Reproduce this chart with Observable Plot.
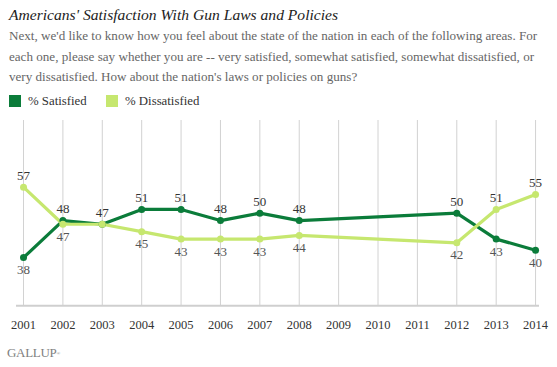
<!DOCTYPE html>
<html><head><meta charset="utf-8">
<script src="https://cdn.jsdelivr.net/npm/d3@7"></script>
<script src="https://cdn.jsdelivr.net/npm/@observablehq/plot@0.6"></script>
<style>
body{margin:0;background:#fff;width:557px;height:367px;position:relative;overflow:hidden;font-family:"Liberation Serif",serif;}
.abs{position:absolute;white-space:nowrap}
#title{left:9px;top:6.5px;font-size:15.6px;line-height:15.6px;font-style:italic;color:#222}
#sub{left:9px;top:26px;font-size:13.1px;line-height:20.7px;color:#666}
.sw{position:absolute;width:12px;height:12px;top:95px}
.lg{position:absolute;top:94px;font-size:12.8px;line-height:14px;color:#333}
#chart{position:absolute;left:0;top:110px}
#gallup{left:7px;top:346px;font-size:13px;line-height:13px;color:#808080;letter-spacing:-0.3px}
#gallup sup{font-size:5px;vertical-align:top;position:relative;top:1px}
</style></head>
<body>
<div id="title" class="abs">Americans' Satisfaction With Gun Laws and Policies</div>
<div id="sub" class="abs">Next, we'd like to know how you feel about the state of the nation in each of the following areas. For<br>each one, please say whether you are -- very satisfied, somewhat satisfied, somewhat dissatisfied, or<br>very dissatisfied. How about the nation's laws or policies on guns?</div>
<div id="legend"></div>
<div id="chart"></div>
<div id="gallup" class="abs">GALLUP<sup>®</sup></div>
<script>
const years = [2001, 2002, 2003, 2004, 2005, 2006, 2007, 2008, 2012, 2013, 2014];
const satisfied = [38, 48, 47, 51, 51, 48, 50, 48, 50, 43, 40];
const dissatisfied = [57, 47, 47, 45, 43, 43, 43, 44, 42, 51, 55];
const tickYears = [2001, 2002, 2003, 2004, 2005, 2006, 2007, 2008, 2009, 2010, 2011, 2012, 2013, 2014];
const seriesNames = ["% Satisfied", "% Dissatisfied"];
const seriesColors = ["#0b7c3a", "#c6e76f"];

// legend
const legend = document.getElementById("legend");
const legendX = [[9, 28], [106, 125]];
seriesNames.forEach((name, i) => {
  const sw = document.createElement("div");
  sw.className = "sw"; sw.style.left = legendX[i][0] + "px"; sw.style.background = seriesColors[i];
  const lb = document.createElement("div");
  lb.className = "lg"; lb.style.left = legendX[i][1] + "px"; lb.textContent = name;
  legend.append(sw, lb);
});

const rows = [];
years.forEach((y, i) => {
  const s = satisfied[i], d = dissatisfied[i];
  rows.push({year: y, series: seriesNames[0], value: s, pos: s >= d ? "above" : "below", show: true});
  rows.push({year: y, series: seriesNames[1], value: d, pos: d > s ? "above" : "below", show: d !== s});
});

const chart = Plot.plot({
  width: 557,
  height: 230,
  marginTop: 10,
  marginBottom: 34.7,
  marginLeft: 16,
  marginRight: 18,
  style: {fontFamily: "'Liberation Serif', serif", fontSize: "12.5px", color: "#333", background: "transparent"},
  x: {domain: [2000.822, 2014.1], axis: null},
  y: {domain: [25, 75], axis: null},
  color: {domain: seriesNames, range: seriesColors},
  marks: [
    Plot.ruleX(tickYears, {stroke: "#d2d2d2", strokeWidth: 1}),
    Plot.ruleY([25], {stroke: "#cfcfcf", strokeWidth: 2}),
    Plot.axisX({ticks: tickYears, tickFormat: d => String(d), tickSize: 0, tickPadding: 14.5, fontSize: 12.5, fill: "#333", label: null}),
    Plot.line(rows, {x: "year", y: "value", z: "series", stroke: "series", strokeWidth: 3.2}),
    Plot.dot(rows, {x: "year", y: "value", fill: "series", r: 3.5}),
    Plot.text(rows.filter(r => r.show && r.pos === "above"), {x: "year", y: "value", text: d => String(d.value), dy: -11.5, fontSize: 13, fill: "#333"}),
    Plot.text(rows.filter(r => r.show && r.pos === "below"), {x: "year", y: "value", text: d => String(d.value), dy: 12.5, fontSize: 13, fill: "#555"})
  ]
});
document.getElementById("chart").append(chart);
</script>
</body></html>
